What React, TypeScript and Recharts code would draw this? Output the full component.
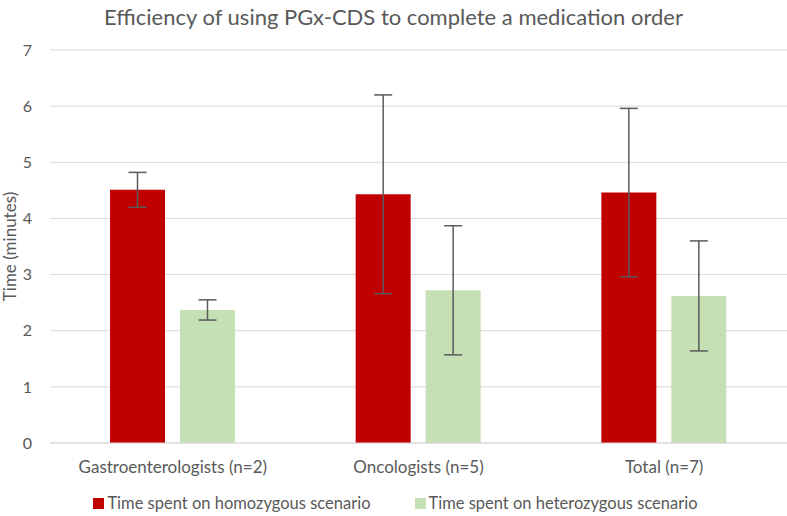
import React from "react";
import {
  BarChart,
  Bar,
  XAxis,
  YAxis,
  CartesianGrid,
  Legend,
  ErrorBar,
} from "recharts";

const categories = [
  "Gastroenterologists (n=2)",
  "Oncologists (n=5)",
  "Total (n=7)",
];
const homozygous = [4.51, 4.43, 4.46];
const homozygousErr = [0.31, 1.77, 1.5];
const heterozygous = [2.37, 2.72, 2.62];
const heterozygousErr = [0.18, 1.15, 0.98];
const yTicks = [0, 1, 2, 3, 4, 5, 6, 7];

const HOMO_NAME = "Time spent on homozygous scenario";
const HETERO_NAME = "Time spent on heterozygous scenario";

const RED = "#C00000";
const GREEN = "#C5E0B4";
const TEXT = "#595959";
const FONT = "Lato, 'Open Sans', sans-serif";

const chartData = categories.map((name, i) => ({
  name,
  homo: homozygous[i],
  homoErr: homozygousErr[i],
  hetero: heterozygous[i],
  heteroErr: heterozygousErr[i],
}));

// 凡例
function ChartLegend() {
  const items = [
    { label: HOMO_NAME, color: RED },
    { label: HETERO_NAME, color: GREEN },
  ];
  return (
    <div
      style={{
        display: "flex",
        justifyContent: "center",
        gap: 44,
        fontFamily: FONT,
        fontSize: 16.5,
        color: TEXT,
        paddingLeft: 4,
      }}
    >
      {items.map((item) => (
        <div key={item.label} style={{ display: "flex", alignItems: "center", gap: 3 }}>
          <div style={{ width: 11, height: 11, backgroundColor: item.color }} />
          <span>{item.label}</span>
        </div>
      ))}
    </div>
  );
}

export default function App() {
  return (
    <div
      style={{
        position: "absolute",
        left: 0,
        top: 0,
        width: 787,
        height: 516,
        background: "#fff",
        fontFamily: FONT,
      }}
    >
      <div
        style={{
          position: "absolute",
          top: 3,
          left: 0,
          width: 787,
          textAlign: "center",
          fontSize: 22,
          color: TEXT,
        }}
      >
        Efficiency of using PGx-CDS to complete a medication order
      </div>
      <BarChart
        width={787}
        height={516}
        data={chartData}
        margin={{ top: 50, right: 0, left: 0, bottom: 2 }}
        barSize={55}
        barGap={15}
      >
        <CartesianGrid vertical={false} stroke="#D9D9D9" />
        <XAxis
          dataKey="name"
          tickLine={false}
          axisLine={{ stroke: "#D9D9D9" }}
          tick={{ fontSize: 17, fill: TEXT, fontFamily: FONT }}
          tickMargin={12}
          height={50}
          interval={0}
        />
        <YAxis
          domain={[0, 7]}
          ticks={yTicks}
          tickLine={false}
          axisLine={false}
          tick={{ fontSize: 16, fill: TEXT, fontFamily: FONT }}
          tickMargin={12}
          width={50}
          label={{
            value: "Time (minutes)",
            angle: -90,
            position: "insideLeft",
            offset: 10,
            style: { textAnchor: "middle", fontSize: 17, fill: TEXT, fontFamily: FONT },
          }}
        />
        <Legend verticalAlign="bottom" height={21} content={<ChartLegend />} />
        <Bar dataKey="homo" name={HOMO_NAME} fill={RED} isAnimationActive={false}>
          <ErrorBar dataKey="homoErr" width={9} stroke="#5A5A5A" strokeWidth={1.5} />
        </Bar>
        <Bar dataKey="hetero" name={HETERO_NAME} fill={GREEN} isAnimationActive={false}>
          <ErrorBar dataKey="heteroErr" width={9} stroke="#5A5A5A" strokeWidth={1.5} />
        </Bar>
      </BarChart>
    </div>
  );
}
